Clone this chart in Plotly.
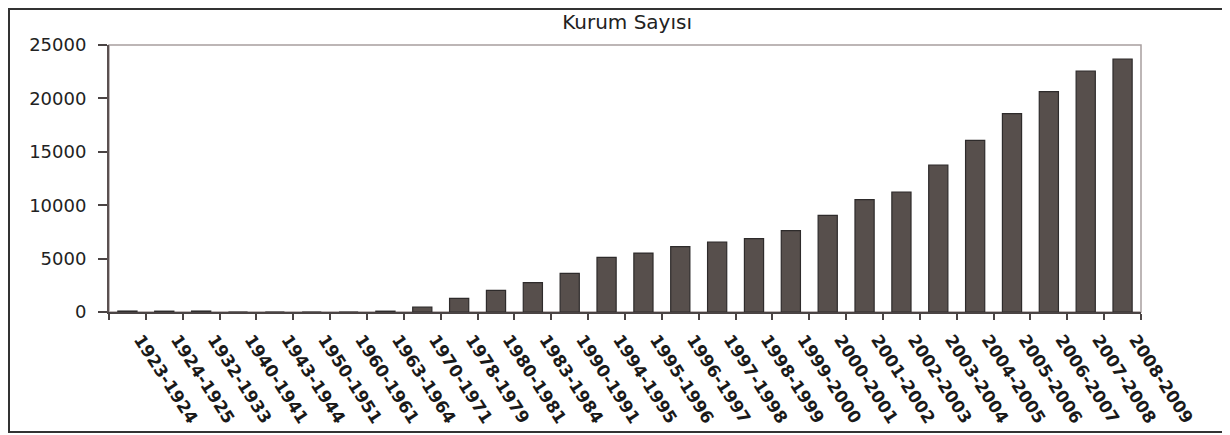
import plotly.graph_objects as go

donemler = [
    "1923-1924", "1924-1925", "1932-1933", "1940-1941", "1943-1944",
    "1950-1951", "1960-1961", "1963-1964", "1970-1971", "1978-1979",
    "1980-1981", "1983-1984", "1990-1991", "1994-1995", "1995-1996",
    "1996-1997", "1997-1998", "1998-1999", "1999-2000", "2000-2001",
    "2001-2002", "2002-2003", "2003-2004", "2004-2005", "2005-2006",
    "2006-2007", "2007-2008", "2008-2009",
]
kurum_sayisi = [
    90, 80, 90, 0, 0,
    0, 0, 80, 450, 1280,
    2030, 2745, 3620, 5120, 5520,
    6115, 6555, 6865, 7615, 9050,
    10515, 11235, 13765, 16075, 18570,
    20630, 22565, 23690,
]
y_ticks = [0, 5000, 10000, 15000, 20000, 25000]

FONT = "DejaVu Sans, Liberation Sans, Arial, sans-serif"

# the page body has an 8px margin, so the figure is 8px smaller and shifted
W, H = 1222, 427
L, T, R, B = 101, 37, 89, 123
pw, ph = W - L - R, H - T - B

fig = go.Figure()
fig.add_trace(
    go.Bar(
        x=donemler,
        y=kurum_sayisi,
        width=0.52,
        marker=dict(color="#574f4c", line=dict(color="#2e2b2b", width=1.2)),
    )
)

# plot area border (light) and outer frame
fig.add_shape(
    type="rect", xref="paper", yref="paper", x0=0, x1=1, y0=0, y1=1,
    line=dict(color="#a89f9f", width=1.5), layer="below",
)
fig.add_shape(
    type="rect", xref="paper", yref="paper",
    x0=(1 - L) / pw, x1=(W - 7 - L) / pw,
    y0=-(B - 3) / ph, y1=1 + (T - 1) / ph,
    line=dict(color="#333333", width=2),
)

fig.update_layout(
    width=W,
    height=H,
    margin=dict(l=L, r=R, t=T, b=B, autoexpand=False),
    paper_bgcolor="white",
    plot_bgcolor="white",
    showlegend=False,
    title=dict(
        text="Kurum Sayısı",
        x=0.502, xref="paper", xanchor="center",
        y=1 - 14 / H, yanchor="middle",
        font=dict(family=FONT, size=20, color="#222222"),
    ),
    font=dict(family=FONT, color="#222222"),
)
fig.update_xaxes(
    type="category",
    automargin=False,
    tickson="boundaries",
    ticks="outside",
    ticklen=6,
    tickcolor="#4a4444",
    tickwidth=1.5,
    showline=True,
    linecolor="#4a4444",
    linewidth=2,
    showgrid=False,
    tickangle=57,
    ticklabelstandoff=9,
    ticklabelshift=13,
    tickfont=dict(family=FONT, size=17, color="#1a1a1a", weight="bold"),
)
fig.update_yaxes(
    automargin=False,
    range=[0, 25000],
    tickvals=y_ticks,
    tickformat="d",
    ticks="outside",
    ticklen=9,
    tickcolor="#4a4444",
    tickwidth=1.5,
    showline=True,
    linecolor="#5a5050",
    linewidth=2,
    showgrid=False,
    zeroline=False,
    ticklabelstandoff=8,
    tickfont=dict(family=FONT, size=18, color="#222222"),
)

fig.write_html("out.html")
